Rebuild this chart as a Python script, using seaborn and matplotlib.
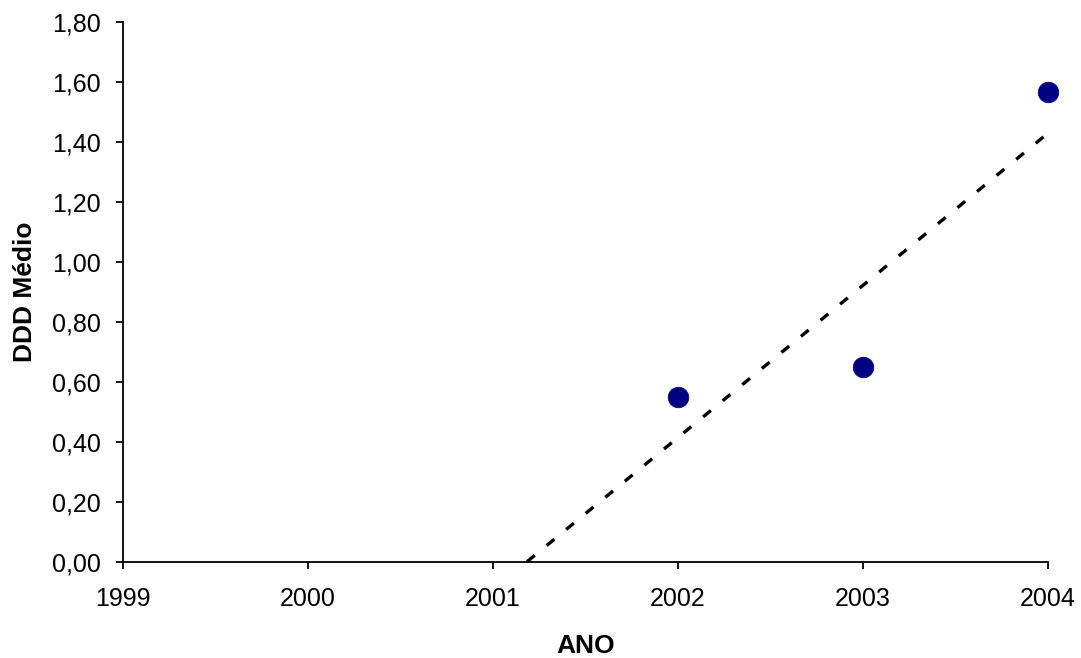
import numpy as np
import pandas as pd
import matplotlib
matplotlib.use("Agg")
import matplotlib.pyplot as plt
from matplotlib.ticker import FuncFormatter
import seaborn as sns

sns.set_style("ticks")
plt.rcParams['font.family'] = ['Liberation Sans', 'DejaVu Sans']
plt.rcParams['text.color'] = 'black'
plt.rcParams['axes.labelcolor'] = 'black'

# data
anos = [2002, 2003, 2004]
ddd_medio = [0.55, 0.65, 1.565]
x_ticks = [1999, 2000, 2001, 2002, 2003, 2004]
y_ticks = [0.0, 0.2, 0.4, 0.6, 0.8, 1.0, 1.2, 1.4, 1.6, 1.8]

df = pd.DataFrame({'ANO': anos, 'DDD': ddd_medio})

# linear trend line (as in the original spreadsheet), cut where it hits zero
m, b = np.polyfit(df['ANO'], df['DDD'], 1)
x0 = -b / m
trend = pd.DataFrame({'ANO': [x0, anos[-1]]})
trend['DDD'] = m * trend['ANO'] + b

fig, ax = plt.subplots(figsize=(10.81, 6.58), dpi=100)
fig.subplots_adjust(left=0.1138, right=0.9695, bottom=0.1464, top=0.9666)

sns.lineplot(data=trend, x='ANO', y='DDD', ax=ax, color='black', lw=2.4,
             dashes=False, zorder=2)
ax.lines[0].set_dashes((3.0, 4.6))
sns.scatterplot(data=df, x='ANO', y='DDD', ax=ax, color='#000080', s=220,
                edgecolor='#000080', linewidth=0.5, zorder=3, clip_on=False)

ax.set_xlim(1999, 2004)
ax.set_ylim(0, 1.8)
ax.set_xticks(x_ticks)
ax.set_yticks(y_ticks)
ax.yaxis.set_major_formatter(FuncFormatter(lambda v, p: f"{v:.2f}".replace('.', ',')))
ax.xaxis.set_major_formatter(FuncFormatter(lambda v, p: f"{int(round(v))}"))

for s in ['top', 'right']:
    ax.spines[s].set_visible(False)
for s in ['left', 'bottom']:
    ax.spines[s].set_linewidth(1.3)
    ax.spines[s].set_color('black')
ax.tick_params(axis='both', direction='out', length=5, width=1.3, colors='black',
               labelsize=18)
ax.tick_params(axis='x', pad=13)
ax.tick_params(axis='y', pad=11)

ax.set_xlabel('ANO', fontsize=19, fontweight='bold', labelpad=17)
ax.set_ylabel('DDD Médio', fontsize=19, fontweight='bold', labelpad=11)

fig.savefig('out.png', dpi=100)
